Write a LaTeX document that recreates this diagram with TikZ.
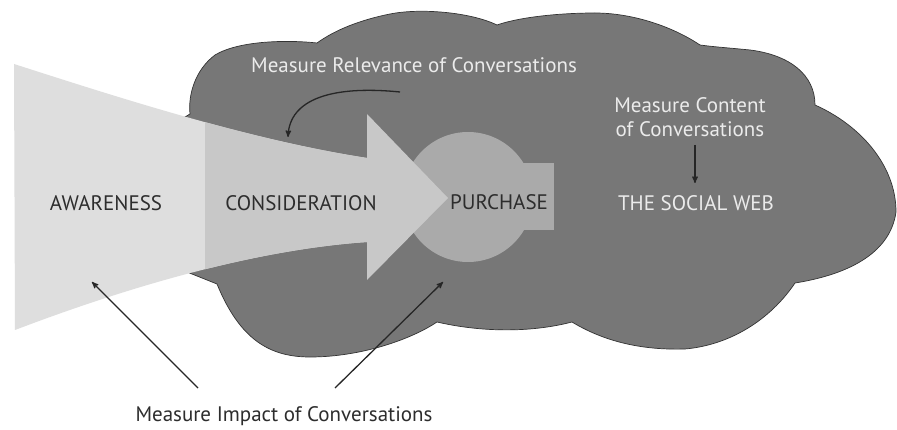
\documentclass[tikz,border=0pt]{standalone}
\usepackage{fontspec}
\setmainfont{PT Sans}
\usepackage{xcolor}
\usepackage{tikz}
\usetikzlibrary{positioning, arrows}

\definecolor{cloudgray}{RGB}{119,119,119}
\definecolor{awaregray}{RGB}{222,222,222}
\definecolor{considergray}{RGB}{200,200,200}
\definecolor{purchasegray}{RGB}{170,170,170}
\definecolor{darktext}{RGB}{45,45,45}
\definecolor{lighttext}{RGB}{235,235,235}

\begin{document}
\begin{tikzpicture}[x=1pt, y=-1pt,
  stage/.style={font=\fontsize{21}{24}\selectfont, text=darktext, inner sep=0pt},
  note/.style={font=\fontsize{21}{24}\selectfont, text=lighttext, inner sep=0pt, align=center},
  pointer/.style={->, >=stealth', line width=1.3pt, draw=black!85}]
  \useasboundingbox[fill=white] (0,0) rectangle (897,430);

  % the social web cloud
  \filldraw[fill=cloudgray, draw=black!80, line width=0.7pt]
    (187,272) -- (217,284)
    .. controls (240,340) and (270,357) .. (310,357)
    .. controls (360,357) and (410,340) .. (437,322)
    .. controls (480,332) and (530,333) .. (572,322)
    .. controls (610,345) and (650,350) .. (685,349)
    .. controls (730,345) and (770,320) .. (795,283)
    .. controls (845,275) and (890,255) .. (896,212)
    .. controls (896,165) and (860,125) .. (815,105)
    .. controls (815,75) and (790,55) .. (750,50)
    .. controls (730,48) and (715,47) .. (700,45)
    .. controls (670,25) and (630,13) .. (595,13)
    .. controls (560,13) and (520,17) .. (497,25)
    .. controls (470,12) and (420,8) .. (390,14)
    .. controls (360,20) and (335,30) .. (317,43)
    .. controls (290,40) and (240,40) .. (215,55)
    .. controls (195,70) and (188,95) .. (190,114)
    -- (180,120) -- (240,190) -- cycle;

  % purchase
  \fill[purchasegray] (468,197) circle (65);
  \fill[purchasegray] (500,163) rectangle (554,230);

  % funnel
  \fill[awaregray] (14,64) .. controls (120,98) and (250,140) .. (367,158)
    -- (367,242) .. controls (250,250) and (120,290) .. (15,330) -- cycle;
  \begin{scope}
    \clip (205,0) rectangle (367,430);
    \fill[considergray] (14,64) .. controls (120,98) and (250,140) .. (367,158)
      -- (367,242) .. controls (250,250) and (120,290) .. (15,330) -- cycle;
  \end{scope}
  \fill[considergray] (367,114) -- (448,198) -- (367,280) -- cycle;

  % stages
  \node[stage] (aware) at (106,203) {AWARENESS};
  \node[stage] (consider) at (301,203) {CONSIDERATION};
  \node[stage] (purchase) at (499,202) {PURCHASE};
  \node[note] (social) at (696,203) {THE SOCIAL WEB};

  % measures
  \node[note] (relevance) at (414,65) {Measure Relevance of Conversations};
  \node[note] (content) at (690,117) {Measure Content\\of Conversations};
  \node[stage] (impact) at (284,416) {Measure Impact of Conversations};

  \coordinate (relFrom) at (400,92);
  \coordinate (relTo) at (288,137);
  \coordinate (webFrom) at (695,145);
  \coordinate (webTo) at (695,183);
  \coordinate (impL) at (198,388);
  \coordinate (impR) at (335,388);
  \coordinate (awPt) at (92,282);
  \coordinate (puPt) at (443,282);

  \draw[pointer] (relFrom) .. controls (330,85) and (290,100) .. (relTo);
  \draw[pointer] (webFrom) -- (webTo);
  \draw[pointer] (impL) -- (awPt);
  \draw[pointer] (impR) -- (puPt);
\end{tikzpicture}
\end{document}
